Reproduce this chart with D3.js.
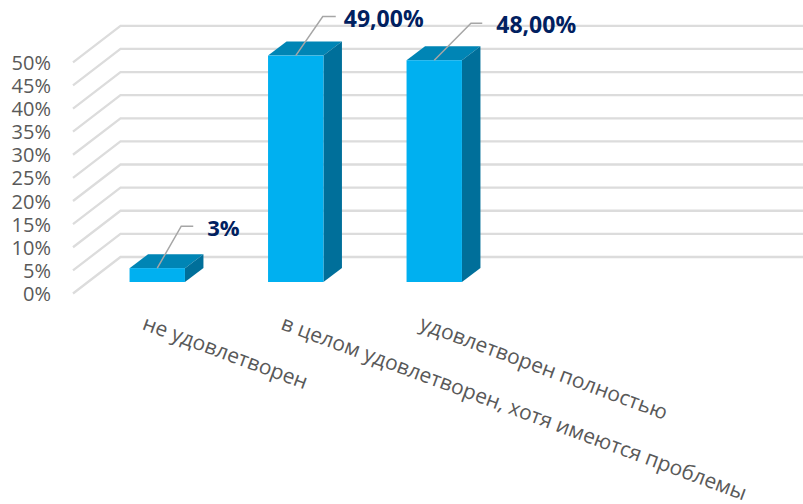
<!DOCTYPE html>
<html>
<head>
<meta charset="utf-8">
<script src="https://cdn.jsdelivr.net/npm/d3@7"></script>
<style>
html, body { margin: 0; padding: 0; background: #fff; }
svg { display: block; }
text { font-family: "Open Sans", "Noto Sans", sans-serif; }
</style>
</head>
<body>
<div id="chart"></div>
<script>
var categories = ["не удовлетворен", "в целом удовлетворен, хотя имеются проблемы", "удовлетворен полностью"];
var slots = categories.concat(["", ""]);   // two empty categories keep the bars on the left
var values = [3, 49, 48];
var value_labels = ["3%", "49,00%", "48,00%"];
var y_ticks = [0, 5, 10, 15, 20, 25, 30, 35, 40, 45, 50];

var width = 803, height = 504;

// 3D look: floor depth from the front edge to the back wall
var depth_x = 47.5, depth_y = -36.5;
var bar_depth_x = 18.5, bar_depth_y = -14;
var front_x = 73, front_y = 293.5, right_x = 803;

var svg = d3.select("#chart").append("svg")
  .attr("width", width)
  .attr("height", height);

var y_front = d3.scaleLinear().domain([0, 50]).range([front_y, 62.3]);
var y_bar = d3.scaleLinear().domain([0, 50]).range([282, 51]);
var x_band = d3.scaleBand().domain(slots.map(function(d, i) { return i; }))
  .range([88, 780.5]).paddingInner(0.6).paddingOuter(0.3);

/* Gridlines: slanted piece on the side wall, then flat along the back wall */
svg.selectAll(".grid")
    .data(y_ticks)
  .enter().append("polyline")
    .attr("class", "grid")
    .attr("points", function(d) {
        var y = y_front(d);
        return [[front_x, y], [front_x + depth_x, y + depth_y], [right_x, y + depth_y]].join(" ");
    })
    .attr("fill", "none")
    .attr("stroke", "#dcdcdc")
    .attr("stroke-width", 2.3);

/* Y labels */
svg.selectAll(".y_label")
    .data(y_ticks)
  .enter().append("text")
    .attr("class", "y_label")
    .attr("x", 51)
    .attr("y", function(d) { return y_front(d) + 7.5; })
    .attr("text-anchor", "end")
    .attr("font-size", 20)
    .attr("fill", "#595959")
    .text(function(d) { return d + "%"; });

/* Bars: top, side, front */
var bars = svg.selectAll(".bar")
    .data(values)
  .enter().append("g")
    .attr("class", "bar");

bars.append("polygon")
    .attr("points", function(d, i) {
        var x0 = x_band(i), x1 = x0 + x_band.bandwidth(), y = y_bar(d);
        return [[x0, y], [x1, y], [x1 + bar_depth_x, y + bar_depth_y], [x0 + bar_depth_x, y + bar_depth_y]].join(" ");
    })
    .attr("fill", "#0085b5");

bars.append("polygon")
    .attr("points", function(d, i) {
        var x1 = x_band(i) + x_band.bandwidth(), y = y_bar(d), y0 = y_bar(0);
        return [[x1, y], [x1 + bar_depth_x, y + bar_depth_y], [x1 + bar_depth_x, y0 + bar_depth_y], [x1, y0]].join(" ");
    })
    .attr("fill", "#006f9a");

bars.append("rect")
    .attr("x", function(d, i) { return x_band(i); })
    .attr("y", function(d) { return y_bar(d); })
    .attr("width", x_band.bandwidth())
    .attr("height", function(d) { return y_bar(0) - y_bar(d); })
    .attr("fill", "#00b0f0");

/* Leader lines, as offsets from the middle of the bar top */
var leader_dx = [[24, 36], [27, 40], [36.7, 48]];
var leader_dy = [-42, -39, -37];
bars.append("polyline")
    .attr("points", function(d, i) {
        var x = x_band(i) + x_band.bandwidth() / 2, y = y_bar(d);
        return [[x, y], [x + leader_dx[i][0], y + leader_dy[i]], [x + leader_dx[i][1], y + leader_dy[i]]].join(" ");
    })
    .attr("fill", "none")
    .attr("stroke", "#a6a6a6")
    .attr("stroke-width", 1.5);

var label_dx = [50, 48, 62];
var label_dy = [-32, -29, -27];
var label_size = [22, 23, 23];
bars.append("text")
    .attr("x", function(d, i) { return x_band(i) + x_band.bandwidth() / 2 + label_dx[i]; })
    .attr("y", function(d, i) { return y_bar(d) + label_dy[i]; })
    .attr("font-size", function(d, i) { return label_size[i]; })
    .attr("font-weight", "bold")
    .attr("fill", "#002060")
    .text(function(d, i) { return value_labels[i]; });

/* Category labels, rotated and starting under each bar */
svg.selectAll(".x_label")
    .data(categories)
  .enter().append("text")
    .attr("class", "x_label")
    .attr("transform", function(d, i) {
        var x = x_band(i) + x_band.bandwidth() / 2 - 16;
        return "translate(" + x + ",329) rotate(20.3)";
    })
    .attr("font-size", 21)
    .attr("fill", "#595959")
    .text(function(d) { return d; });
</script>
</body>
</html>
